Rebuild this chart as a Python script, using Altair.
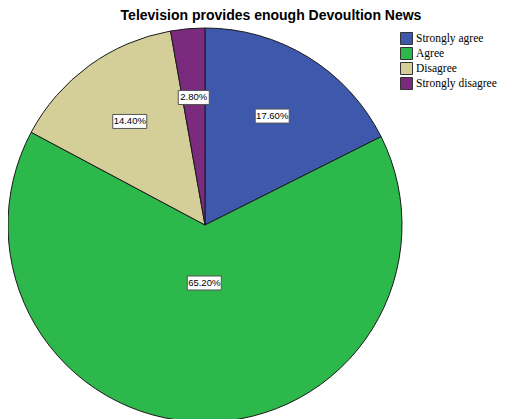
import altair as alt
import pandas as pd

categories = ["Strongly agree", "Agree", "Disagree", "Strongly disagree"]
values = [17.6, 65.2, 14.4, 2.8]
colors = ["#3E58AC", "#2DB84C", "#D4CE98", "#7B2B7E"]
title_text = "Television provides enough Devoultion News"

df = pd.DataFrame({"category": categories, "value": values,
                   "idx": list(range(len(categories)))})

CX, CY, R = 197, 217, 197

base = alt.Chart(df)

pie = base.mark_arc(radius=R, stroke="#1a1a1a", strokeWidth=1).encode(
    theta=alt.Theta("value:Q", stack=True),
    color=alt.Color(
        "category:N",
        scale=alt.Scale(domain=categories, range=colors),
        sort=categories,
        legend=alt.Legend(
            orient="none", legendX=392, legendY=24, title=None,
            symbolType="square", symbolSize=144, symbolStrokeColor="#333333",
            symbolStrokeWidth=1, labelFont="Liberation Serif", labelFontSize=11.5,
            labelColor="black", rowPadding=-6, labelOffset=3, padding=0,
            symbolOpacity=1, labelLimit=300,
        ),
    ),
    order=alt.Order("idx:Q"),
    x=alt.value(CX),
    y=alt.value(CY),
)

labeled = base.transform_window(
    cum="sum(value)", sort=[alt.SortField("idx")], frame=[None, 0]
).transform_joinaggregate(total="sum(value)").transform_calculate(
    ang="2*PI*(datum.cum - datum.value/2)/datum.total",
    lr="datum.value > 50 ? 58 : 128",
    lx=f"{CX} + datum.lr*sin(datum.ang)",
    ly=f"{CY} - datum.lr*cos(datum.ang)",
    label="format(datum.value, '.2f') + '%'",
    bw="length(datum.label)*3 + 16",
    bx1="datum.lx - datum.bw/2",
    bx2="datum.lx + datum.bw/2",
    by1="datum.ly - 7",
    by2="datum.ly + 7",
)

boxes = labeled.mark_rect(fill="white", stroke="#555555", strokeWidth=1).encode(
    x=alt.X("bx1:Q", scale=None, axis=None),
    x2="bx2:Q",
    y=alt.Y("by1:Q", scale=None, axis=None),
    y2="by2:Q",
)

texts = labeled.mark_text(font="Liberation Sans", fontSize=9.5, color="black",
                          baseline="middle", align="center").encode(
    x=alt.X("lx:Q", scale=None, axis=None),
    y=alt.Y("ly:Q", scale=None, axis=None),
    text="label:N",
)

title = alt.Chart(pd.DataFrame({"t": [title_text]})).mark_text(
    font="Liberation Sans", fontSize=14, fontWeight="bold", color="black",
    baseline="alphabetic", align="center"
).encode(x=alt.value(263), y=alt.value(12), text="t:N")

chart = alt.layer(pie, boxes, texts, title).properties(
    width=491, height=411, padding=0,
    autosize=alt.AutoSizeParams(type="none"),
    background="white",
).configure_view(stroke=None)

chart.save("out.html", embed_options={"renderer": "svg", "actions": False})
